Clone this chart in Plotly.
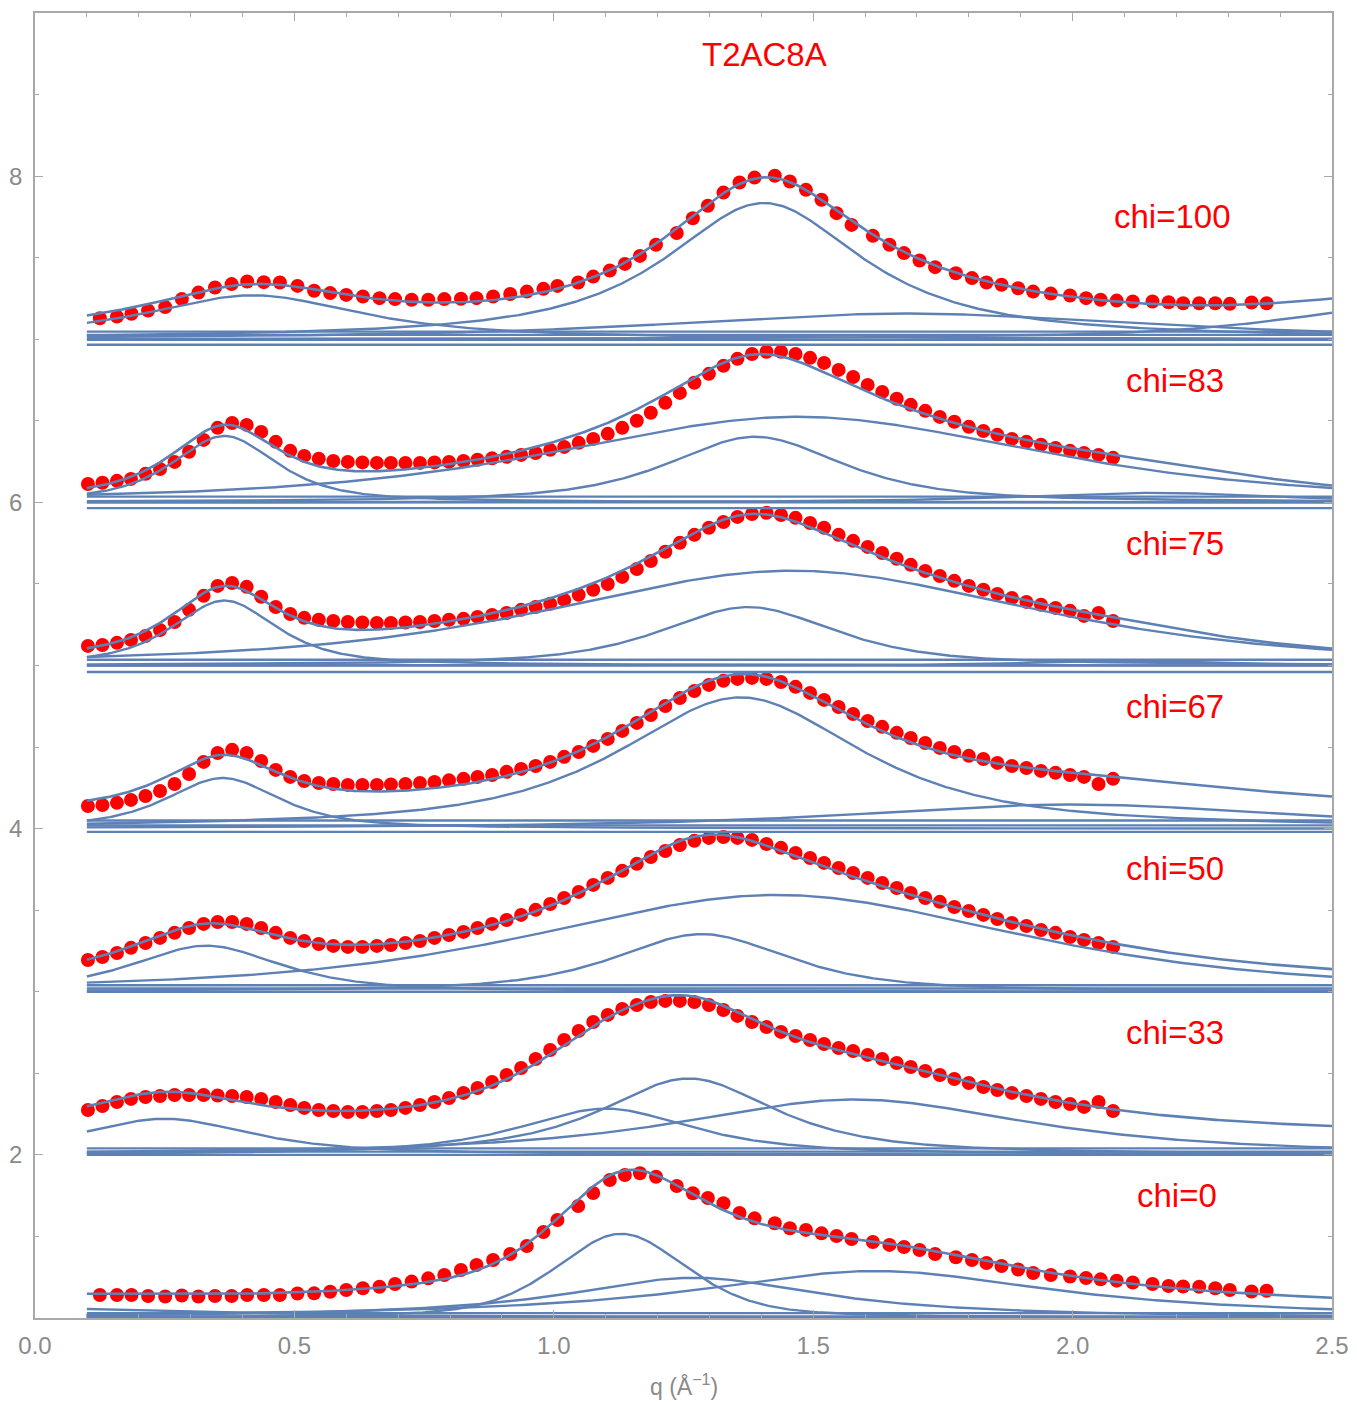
import numpy as np
import plotly.graph_objects as go

# ---------------------------------------------------------------------------
# Measured WAXS line profiles of T2AC8A at several azimuthal angles (chi).
# Each profile is drawn shifted upward by its panel offset.
# ---------------------------------------------------------------------------
Q_WIDE = [0.125, 0.158, 0.186, 0.218, 0.251, 0.283, 0.315, 0.347, 0.379, 0.409,
          0.441, 0.472, 0.506, 0.538, 0.569, 0.600, 0.632, 0.664, 0.694, 0.726,
          0.758, 0.789, 0.821, 0.851, 0.883, 0.916, 0.948, 0.980, 1.007, 1.047,
          1.076, 1.108, 1.137, 1.166, 1.197, 1.237, 1.268, 1.297, 1.327, 1.358,
          1.387, 1.426, 1.455, 1.486, 1.516, 1.545, 1.574, 1.615, 1.647, 1.675,
          1.705, 1.735, 1.775, 1.806, 1.834, 1.863, 1.895, 1.924, 1.958, 1.995,
          2.026, 2.054, 2.085, 2.116, 2.154, 2.185, 2.213, 2.244, 2.275, 2.303,
          2.345, 2.374]

Q_NARROW = [0.102, 0.130, 0.158, 0.185, 0.213, 0.241, 0.269, 0.297, 0.325, 0.352,
            0.380, 0.408, 0.436, 0.464, 0.492, 0.519, 0.547, 0.575, 0.603, 0.631,
            0.659, 0.686, 0.714, 0.742, 0.770, 0.798, 0.826, 0.853, 0.881, 0.909,
            0.937, 0.965, 0.993, 1.020, 1.048, 1.076, 1.104, 1.132, 1.160, 1.187,
            1.215, 1.243, 1.271, 1.299, 1.327, 1.354, 1.382, 1.410, 1.438, 1.466,
            1.494, 1.521, 1.549, 1.577, 1.605, 1.633, 1.661, 1.688, 1.716, 1.744,
            1.772, 1.800, 1.828, 1.855, 1.883, 1.911, 1.939, 1.967, 1.995, 2.022,
            2.050, 2.078]

I_CHI0 = [1.141, 1.141, 1.141, 1.135, 1.132, 1.138, 1.132, 1.135, 1.135, 1.141,
          1.141, 1.141, 1.150, 1.151, 1.161, 1.172, 1.182, 1.192, 1.208, 1.223,
          1.243, 1.264, 1.294, 1.325, 1.356, 1.392, 1.441, 1.527, 1.601, 1.687,
          1.766, 1.846, 1.877, 1.887, 1.866, 1.809, 1.765, 1.736, 1.703, 1.644,
          1.611, 1.581, 1.550, 1.540, 1.519, 1.503, 1.484, 1.466, 1.448, 1.435,
          1.417, 1.392, 1.372, 1.356, 1.337, 1.319, 1.297, 1.276, 1.264, 1.254,
          1.245, 1.237, 1.229, 1.218, 1.208, 1.196, 1.193, 1.192, 1.182, 1.172,
          1.162, 1.167]

I_CHI33 = [2.275, 2.300, 2.324, 2.343, 2.355, 2.361, 2.367, 2.367, 2.367, 2.364,
           2.361, 2.355, 2.343, 2.324, 2.306, 2.288, 2.275, 2.269, 2.263, 2.263,
           2.269, 2.275, 2.288, 2.306, 2.324, 2.349, 2.380, 2.410, 2.447, 2.490,
           2.533, 2.588, 2.643, 2.704, 2.760, 2.815, 2.858, 2.895, 2.919, 2.937,
           2.944, 2.944, 2.937, 2.919, 2.888, 2.852, 2.815, 2.784, 2.754, 2.729,
           2.704, 2.680, 2.655, 2.637, 2.613, 2.588, 2.563, 2.539, 2.514, 2.490,
           2.465, 2.441, 2.416, 2.398, 2.380, 2.361, 2.343, 2.324, 2.312, 2.294,
           2.324, 2.269]

I_CHI50 = [3.195, 3.213, 3.238, 3.269, 3.299, 3.330, 3.361, 3.391, 3.416, 3.428,
           3.428, 3.416, 3.391, 3.361, 3.330, 3.311, 3.293, 3.281, 3.275, 3.275,
           3.281, 3.287, 3.299, 3.311, 3.330, 3.348, 3.367, 3.391, 3.416, 3.440,
           3.471, 3.502, 3.538, 3.575, 3.612, 3.655, 3.698, 3.741, 3.784, 3.826,
           3.863, 3.900, 3.925, 3.943, 3.949, 3.943, 3.931, 3.906, 3.882, 3.851,
           3.820, 3.790, 3.759, 3.728, 3.698, 3.667, 3.636, 3.606, 3.575, 3.551,
           3.520, 3.495, 3.471, 3.446, 3.422, 3.403, 3.379, 3.361, 3.336, 3.318,
           3.299, 3.275]

I_CHI67 = [4.139, 4.145, 4.158, 4.176, 4.200, 4.231, 4.274, 4.335, 4.409, 4.464,
           4.483, 4.464, 4.415, 4.360, 4.317, 4.292, 4.280, 4.274, 4.268, 4.268,
           4.268, 4.271, 4.274, 4.280, 4.286, 4.296, 4.305, 4.317, 4.329, 4.348,
           4.366, 4.384, 4.409, 4.440, 4.470, 4.507, 4.550, 4.599, 4.648, 4.697,
           4.752, 4.801, 4.844, 4.881, 4.906, 4.918, 4.924, 4.918, 4.899, 4.869,
           4.832, 4.789, 4.746, 4.703, 4.660, 4.624, 4.587, 4.556, 4.525, 4.495,
           4.470, 4.446, 4.427, 4.403, 4.384, 4.372, 4.354, 4.342, 4.329, 4.317,
           4.274, 4.305]

I_CHI75 = [5.120, 5.126, 5.139, 5.157, 5.181, 5.218, 5.267, 5.341, 5.427, 5.488,
           5.506, 5.482, 5.421, 5.359, 5.316, 5.292, 5.280, 5.273, 5.267, 5.264,
           5.261, 5.261, 5.264, 5.267, 5.273, 5.280, 5.286, 5.298, 5.310, 5.322,
           5.341, 5.359, 5.378, 5.402, 5.433, 5.464, 5.500, 5.543, 5.592, 5.641,
           5.697, 5.752, 5.801, 5.844, 5.880, 5.911, 5.929, 5.936, 5.923, 5.905,
           5.874, 5.844, 5.801, 5.764, 5.727, 5.690, 5.654, 5.617, 5.580, 5.549,
           5.519, 5.488, 5.464, 5.439, 5.414, 5.390, 5.372, 5.353, 5.335, 5.304,
           5.322, 5.273]

I_CHI83 = [6.113, 6.120, 6.132, 6.144, 6.175, 6.205, 6.248, 6.310, 6.383, 6.457,
           6.487, 6.475, 6.432, 6.371, 6.316, 6.285, 6.267, 6.254, 6.248, 6.245,
           6.242, 6.242, 6.242, 6.242, 6.245, 6.248, 6.254, 6.261, 6.270, 6.279,
           6.291, 6.303, 6.322, 6.340, 6.365, 6.389, 6.420, 6.457, 6.500, 6.549,
           6.610, 6.671, 6.733, 6.788, 6.837, 6.880, 6.910, 6.923, 6.923, 6.910,
           6.886, 6.855, 6.812, 6.769, 6.720, 6.677, 6.635, 6.598, 6.561, 6.524,
           6.494, 6.463, 6.438, 6.414, 6.389, 6.371, 6.353, 6.334, 6.316, 6.303,
           6.291, 6.273]

I_CHI100 = [7.129, 7.139, 7.156, 7.176, 7.197, 7.246, 7.286, 7.317, 7.338, 7.354,
            7.350, 7.348, 7.327, 7.297, 7.283, 7.272, 7.262, 7.252, 7.246, 7.242,
            7.242, 7.246, 7.248, 7.252, 7.262, 7.277, 7.292, 7.309, 7.327, 7.348,
            7.384, 7.421, 7.462, 7.511, 7.579, 7.651, 7.742, 7.818, 7.899, 7.961,
            7.991, 8.002, 7.967, 7.916, 7.855, 7.773, 7.701, 7.634, 7.579, 7.528,
            7.483, 7.442, 7.405, 7.375, 7.348, 7.334, 7.313, 7.292, 7.280, 7.268,
            7.252, 7.242, 7.237, 7.231, 7.231, 7.227, 7.221, 7.221, 7.221, 7.217,
            7.225, 7.221]

CHI_NAMES = ["chi=0", "chi=33", "chi=50", "chi=67", "chi=75", "chi=83", "chi=100"]
OFFSETS = [1, 2, 3, 4, 5, 6, 7]
LABEL_Q = [2.201, 2.197, 2.197, 2.197, 2.197, 2.197, 2.193]
LABEL_Y = [1.748, 2.753, 3.753, 4.747, 5.746, 6.745, 7.750]

# Peak components: (centre q, HWHM, Lorentzian fraction, starting height)
PEAKS_CHI0 = [(0.00, 0.40, 1.0, 0.12), (1.13, 0.15, 0.45, 0.62),
              (1.27, 0.30, 1.0, 0.21), (1.62, 0.42, 1.0, 0.27)]
PEAKS_CHI33 = [(0.25, 0.20, 0.8, 0.26), (1.10, 0.20, 0.8, 0.20),
               (1.26, 0.20, 0.8, 0.55), (1.58, 0.40, 0.8, 0.33)]
PEAKS_CHI50 = [(0.33, 0.17, 0.7, 0.28), (1.285, 0.20, 0.7, 0.38),
               (1.43, 0.55, 0.6, 0.51)]
PEAKS_CHI67 = [(0.362, 0.13, 0.7, 0.36), (1.36, 0.28, 0.8, 0.85),
               (2.00, 0.50, 0.8, 0.12)]
PEAKS_CHI75 = [(0.365, 0.12, 0.7, 0.40), (1.375, 0.20, 0.7, 0.365),
               (1.46, 0.55, 0.6, 0.58), (2.10, 0.20, 0.7, 0.065)]
PEAKS_CHI83 = [(0.365, 0.12, 0.7, 0.40), (1.388, 0.20, 0.7, 0.40),
               (1.47, 0.55, 0.6, 0.555), (2.15, 0.30, 0.7, 0.10)]
PEAKS_CHI100 = [(0.42, 0.25, 0.9, 0.29), (1.405, 0.23, 0.9, 0.86),
                (1.68, 0.55, 0.8, 0.155), (2.65, 0.30, 0.8, 0.17)]

# Constant background of each fit and the flat baseline terms under it
BACKGROUND = [0.02, 0.02, 0.02, 0.01, -0.01, -0.02, -0.03]
FLAT_TERMS = [[0.03, 0.01, 0.0], [0.04, 0.02, 0.0], [0.04, 0.02, 0.0],
              [0.05, 0.02, -0.02], [0.035, 0.0, -0.04], [0.035, 0.0, -0.035],
              [0.047, 0.027, -0.004, -0.034]]

PROFILES = [(Q_WIDE, I_CHI0, PEAKS_CHI0), (Q_NARROW, I_CHI33, PEAKS_CHI33),
            (Q_NARROW, I_CHI50, PEAKS_CHI50), (Q_NARROW, I_CHI67, PEAKS_CHI67),
            (Q_NARROW, I_CHI75, PEAKS_CHI75), (Q_NARROW, I_CHI83, PEAKS_CHI83),
            (Q_WIDE, I_CHI100, PEAKS_CHI100)]

FIT_BLUE = "#5e81b5"
DATA_RED = "#ff0000"
FRAME = "#a9a9a9"
TICK_TEXT = "#8a8a8a"
FONT = "Liberation Sans, Arial, sans-serif"


def pseudo_voigt(q, centre, hwhm, eta):
    u = ((q - centre) / hwhm) ** 2
    return eta / (1.0 + u) + (1.0 - eta) * np.exp(-np.log(2.0) * u)


def refine_heights(q, intensity, offset, peaks, bg, weight=1.0):
    """Linear least squares for background + peak heights, kept near the
    starting heights so overlapping peaks stay well defined."""
    q = np.asarray(q, dtype=float)
    target = np.asarray(intensity, dtype=float) - offset
    cols = [np.ones_like(q)] + [pseudo_voigt(q, c, w, e) for c, w, e, _ in peaks]
    a = np.column_stack(cols)
    start = np.array([bg] + [p[3] for p in peaks])
    lhs = a.T @ a + weight * np.eye(len(start))
    rhs = a.T @ target + weight * start
    sol = np.linalg.solve(lhs, rhs)
    return sol[0], sol[1:]


q_curve = np.linspace(0.1, 2.5, 601)
fig = go.Figure()

# data points first so the fitted curves sit on top of them
for (q, inten, peaks) in PROFILES:
    fig.add_trace(go.Scatter(
        x=q, y=inten, mode="markers",
        marker=dict(color=DATA_RED, size=14, line=dict(width=0)),
        hoverinfo="skip", showlegend=False))

for (q, inten, peaks), off, bg0, flats in zip(PROFILES, OFFSETS, BACKGROUND, FLAT_TERMS):
    bg, heights = refine_heights(q, inten, off, peaks, bg0)
    comps = [h * pseudo_voigt(q_curve, c, w, e) for (c, w, e, _), h in zip(peaks, heights)]
    for level in flats:
        fig.add_trace(go.Scatter(
            x=[q_curve[0], q_curve[-1]], y=[off + level, off + level], mode="lines",
            line=dict(color=FIT_BLUE, width=2.4), hoverinfo="skip", showlegend=False))
    for comp in comps:
        fig.add_trace(go.Scatter(
            x=q_curve, y=off + comp, mode="lines",
            line=dict(color=FIT_BLUE, width=2.4), hoverinfo="skip", showlegend=False))
    total = off + bg + np.sum(comps, axis=0)
    fig.add_trace(go.Scatter(
        x=q_curve, y=total, mode="lines",
        line=dict(color=FIT_BLUE, width=2.6), hoverinfo="skip", showlegend=False))

for name, lq, ly in zip(CHI_NAMES, LABEL_Q, LABEL_Y):
    fig.add_annotation(x=lq, y=ly, xref="x", yref="y", text=name, showarrow=False,
                       font=dict(family=FONT, size=33, color=DATA_RED))

fig.add_annotation(x=1.407, y=8.744, xref="x", yref="y", text="T2AC8A", showarrow=False,
                   font=dict(family=FONT, size=33, color=DATA_RED))

fig.add_annotation(x=0.5, y=-0.051, xref="paper", yref="paper",
                   text="q (Å<sup>\u22121</sup>)", showarrow=False, yanchor="middle",
                   font=dict(family=FONT, size=23, color=TICK_TEXT))

axis_common = dict(showline=True, linecolor=FRAME, linewidth=1.5, mirror="ticks",
                   ticks="inside", ticklen=8, tickwidth=1, tickcolor=FRAME,
                   showgrid=False, zeroline=False, automargin=False,
                   tickfont=dict(family=FONT, size=24, color=TICK_TEXT))

fig.update_xaxes(range=[0, 2.5], tickvals=[0, 0.5, 1.0, 1.5, 2.0, 2.5],
                 ticktext=["0.0", "0.5", "1.0", "1.5", "2.0", "2.5"],
                 ticklabelstandoff=5,
                 minor=dict(dtick=0.1, tick0=0, ticks="inside", ticklen=4,
                            tickcolor=FRAME, showgrid=False),
                 **axis_common)
fig.update_yaxes(range=[1, 9], tickvals=[2, 4, 6, 8], ticktext=["2", "4", "6", "8"],
                 ticklabelstandoff=6,
                 minor=dict(dtick=0.5, tick0=0, ticks="inside", ticklen=4,
                            tickcolor=FRAME, showgrid=False),
                 **axis_common)

fig.update_layout(width=1357, height=1402, margin=dict(l=35, r=25, t=13, b=84),
                  plot_bgcolor="white", paper_bgcolor="white", showlegend=False)

fig.write_html("out.html")
